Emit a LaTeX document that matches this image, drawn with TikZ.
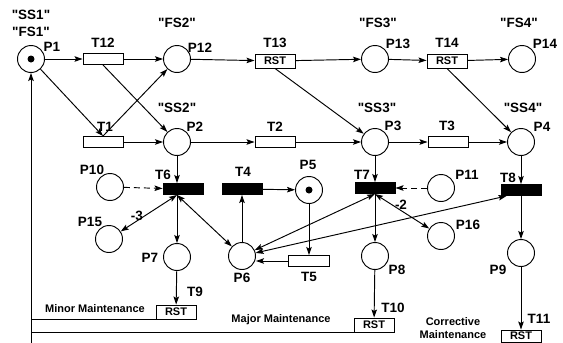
\documentclass[tikz,border=0pt]{standalone}
\usepackage{fontspec}
\setmainfont{Liberation Sans}
\usetikzlibrary{arrows.meta, positioning}
\tikzset{>={Stealth[length=8pt, width=5.5pt, inset=1.5pt]}, font=\bfseries}
\newcommand\qname[1]{\textquotedbl#1\textquotedbl}

\begin{document}
\begin{tikzpicture}[x=1pt, y=-1pt, line width=0.95pt,
    place/.style={circle, draw, minimum size=27pt, inner sep=0pt},
    trans/.style={draw, minimum width=40pt, minimum height=11pt, inner sep=0pt},
    bar/.style={trans, fill=black},
    rst/.style={draw, minimum width=40pt, minimum height=14pt, inner sep=0pt,
        font=\fontsize{11}{12}\selectfont\bfseries},
    lab/.style={inner sep=0pt, font=\fontsize{13.5}{14}\selectfont\bfseries},
    note/.style={inner sep=0pt, align=center, font=\fontsize{11}{13}\selectfont\bfseries},
    inhib/.style={dash pattern=on 6pt off 4pt}]
    \useasboundingbox (0,0) rectangle (563,343);

    % places
    \node[place] (P1)  at (31,59)   {};
    \node[place] (P12) at (177,59)  {};
    \node[place] (P13) at (375,59)  {};
    \node[place] (P14) at (522,59)  {};
    \node[place] (P2)  at (177,142) {};
    \node[place] (P3)  at (375,142) {};
    \node[place] (P4)  at (521,142) {};
    \node[place] (P10) at (110,187) {};
    \node[place] (P5)  at (309,190) {};
    \node[place] (P11) at (441,188) {};
    \node[place] (P15) at (109,239) {};
    \node[place] (P16) at (441,236) {};
    \node[place] (P7)  at (177,257) {};
    \node[place] (P6)  at (242,256) {};
    \node[place] (P8)  at (375,256) {};
    \node[place] (P9)  at (521,253) {};
    \fill (P1) circle (3.5pt);
    \fill (P5) circle (3.5pt);

    % transitions
    \node[trans] (T12) at (103,59)  {};
    \node[rst]   (T13) at (275,61)  {RST};
    \node[rst]   (T14) at (447,61)  {RST};
    \node[trans] (T1)  at (103,142) {};
    \node[trans] (T2)  at (275,142) {};
    \node[trans] (T3)  at (448,142) {};
    \node[bar]   (T6)  at (183,189) {};
    \node[bar]   (T4)  at (242,189) {};
    \node[bar]   (T7)  at (375,188) {};
    \node[bar]   (T8)  at (521,190) {};
    \node[trans, minimum width=41pt] (T5) at (309,261) {};
    \node[rst]   (T9)  at (176,312) {RST};
    \node[rst]   (T10) at (374,325) {RST};
    \node[rst, minimum height=12pt] (T11) at (521,336) {RST};
    \coordinate (t6b) at (T6.south -| P2);
    \coordinate (ret) at (31,343);

    % labels
    \node[lab] (sSS1) at (31,15)   {\qname{SS1}};
    \node[lab] (sFS1) at (31,32)   {\qname{FS1}};
    \node[lab] (sFS2) at (177,23)  {\qname{FS2}};
    \node[lab] (sFS3) at (378,23)  {\qname{FS3}};
    \node[lab] (sFS4) at (519,23)  {\qname{FS4}};
    \node[lab] (sSS2) at (177,108) {\qname{SS2}};
    \node[lab] (sSS3) at (377,108) {\qname{SS3}};
    \node[lab] (sSS4) at (523,108) {\qname{SS4}};
    \node[lab] (lP1)  at (52,47)   {P1};
    \node[lab] (lP12) at (200,48)  {P12};
    \node[lab] (lP13) at (398,44)  {P13};
    \node[lab] (lP14) at (545,44)  {P14};
    \node[lab] (lP2)  at (195,127) {P2};
    \node[lab] (lP3)  at (393,126) {P3};
    \node[lab] (lP4)  at (542,127) {P4};
    \node[lab] (lT12) at (103,43)  {T12};
    \node[lab] (lT13) at (275,43)  {T13};
    \node[lab] (lT14) at (447,43)  {T14};
    \node[lab] (lT1)  at (105,127) {T1};
    \node[lab] (lT2)  at (275,127) {T2};
    \node[lab] (lT3)  at (447,126) {T3};
    \node[lab] (lP10) at (92,170)  {P10};
    \node[lab] (lT6)  at (163,175) {T6};
    \node[lab] (lT4)  at (243,172) {T4};
    \node[lab] (lP5)  at (308,165) {P5};
    \node[lab] (lT7)  at (362,175) {T7};
    \node[lab] (lP11) at (467,175) {P11};
    \node[lab] (lT8)  at (508,178) {T8};
    \node[lab] (lP15) at (90,222)  {P15};
    \node[lab] (lm3)  at (137,216) {-3};
    \node[lab] (lm2)  at (401,205) {-2};
    \node[lab] (lP16) at (468,225) {P16};
    \node[lab] (lP7)  at (150,258) {P7};
    \node[lab] (lP6)  at (242,278) {P6};
    \node[lab] (lT5)  at (309,277) {T5};
    \node[lab] (lP8)  at (397,270) {P8};
    \node[lab] (lP9)  at (498,270) {P9};
    \node[lab] (lT9)  at (195,292) {T9};
    \node[lab] (lT10) at (393,308) {T10};
    \node[lab] (lT11) at (539,319) {T11};
    \node[note] (mMin) at (95,309)  {Minor Maintenance};
    \node[note] (mMaj) at (281,320) {Major Maintenance};
    \node[note] (mCor) at (453,328) {Corrective\\Maintenance};

    % arcs
    \draw[->] (P1) -- (T12);
    \draw[->] (T12) -- (P12);
    \draw[->] (P12) -- (T13);
    \draw[->] (T13) -- (P13);
    \draw[->] (P13) -- (T14);
    \draw[->] (T14) -- (P14);
    \draw[->] (P1) -- (T1.north);
    \draw[->] (T1.north) -- (P12);
    \draw[->] (T12.south) -- (P2);
    \draw[->] (T1) -- (P2);
    \draw[->] (P2) -- (T2);
    \draw[->] (T2) -- (P3);
    \draw[->] (T13.south) -- (P3);
    \draw[->] (P3) -- (T3);
    \draw[->] (T3) -- (P4);
    \draw[->] (T14.south) -- (P4);
    \draw[->] (P2) -- (t6b |- T6.north);
    \draw[->] (P3) -- (T7);
    \draw[->] (P4) -- (T8);
    \draw[->, inhib] (P10) -- (T6);
    \draw[->, inhib] (P11) -- (T7);
    \draw[<->] (t6b) -- (P15);
    \draw[->] (t6b) -- (P7);
    \draw[<->] (t6b) -- (P6);
    \draw[->] (P6) -- (T4);
    \draw[->] (T4) -- (P5);
    \draw[->] (P5) -- (T5);
    \draw[->] (T5.west) -- (P6.east |- T5.west);
    \draw[<->] (T7.south) -- (P6);
    \draw[<->] ([xshift=6pt]T8.south west) -- (P6);
    \draw[<->] (T7.south) -- (P16);
    \draw[->] (T7) -- (P8);
    \draw[->] (T8) -- (P9);
    \draw[->] (P7) -- (T9);
    \draw[->] (P8) -- (T10);
    \draw[->] (P9) -- (T11);
    \draw (T9.south west) -- (P1 |- T9.south west);
    \draw (T10.south west) -- (P1 |- T10.south west);
    \draw[->] (ret) -- (P1);
\end{tikzpicture}
\end{document}
